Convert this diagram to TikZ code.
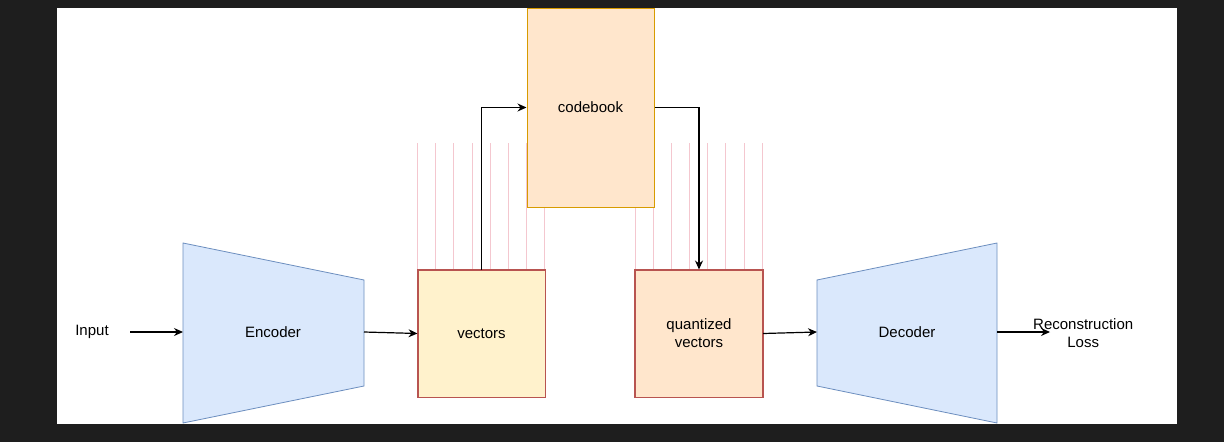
\documentclass[tikz,border=0pt]{standalone}
\usepackage{fontspec}
\setmainfont{Liberation Sans}
\usetikzlibrary{arrows.meta,positioning,calc}
\definecolor{bgdark}{HTML}{1E1E1E}
\definecolor{blueFill}{HTML}{DAE8FC}
\definecolor{blueLine}{HTML}{6C8EBF}
\definecolor{yellowFill}{HTML}{FFF2CC}
\definecolor{peachFill}{HTML}{FFE6CC}
\definecolor{redLine}{HTML}{B85450}
\definecolor{orangeLine}{HTML}{D79B00}
\definecolor{gridPink}{HTML}{F4C7CF}
\tikzset{
  lbl/.style={font=\fontsize{15}{18}\selectfont, align=center},
  box/.style={draw=redLine, line width=1pt, minimum width=127pt, minimum height=127pt, inner sep=0pt},
  trap/.style={draw=blueLine, fill=blueFill, line width=0.8pt},
  conn/.style={-{Stealth[length=9pt,width=8pt]}, line width=1.2pt}
}
\begin{document}
\begin{tikzpicture}[x=1pt,y=-1pt]
  % background
  \fill[bgdark] (0,0) rectangle (1224,442);
  \fill[white] (57,8) rectangle (1177,424);
  \useasboundingbox (0,0) rectangle (1224,442);

  % encoder and decoder
  \draw[trap] (183,243) -- (364,280) -- (364,386) -- (183,423) -- cycle;
  \node[lbl] (enc) at (273,332) {Encoder};
  \coordinate (encIn) at (183,332);
  \coordinate (encOut) at (364,332);
  \draw[trap] (817,280) -- (997,243) -- (997,423) -- (817,386) -- cycle;
  \node[lbl] (dec) at (907,332) {Decoder};
  \coordinate (decIn) at (817,332);
  \coordinate (decOut) at (997,332);

  % vector boxes
  \node[box, fill=yellowFill] (vec) at (481.5,333.5) {};
  \node[box, fill=peachFill] (qvec) at (699,333.5) {};
  \foreach \b in {vec,qvec}{
    \draw[gridPink, line width=0.6pt, shift={(\b.north west)}]
      (0,0) grid[step=18.14] (127,-127);
    \draw[redLine, line width=1.2pt] (\b.north west) rectangle (\b.south east);
  }
  \node[lbl] at (vec) {vectors};
  \node[lbl] at (qvec) {quantized\\vectors};

  % codebook
  \node[draw=orangeLine, fill=peachFill, line width=1pt, minimum width=127pt,
        minimum height=199pt, inner sep=0pt] (cb) at (590.5,107.5) {};
  \node[lbl] at (590.5,107) {codebook};

  % texts
  \node[lbl] (inp) at (92,332) {Input};
  \node[lbl, anchor=west, inner sep=0pt] (loss) at (1033,333.5) {Reconstruction\\Loss};
  \coordinate (lossIn) at (1050,332);
  \coordinate (inpOut) at (130,332);

  % connectors
  \draw[conn] (inpOut) -- (encIn);
  \draw[conn] (encOut) -- (vec.west);
  \draw[conn] (vec.north) |- (cb.west);
  \draw[conn] (cb.east) -| (qvec.north);
  \draw[conn] (qvec.east) -- (decIn);
  \draw[conn] (decOut) -- (lossIn);
\end{tikzpicture}
\end{document}
